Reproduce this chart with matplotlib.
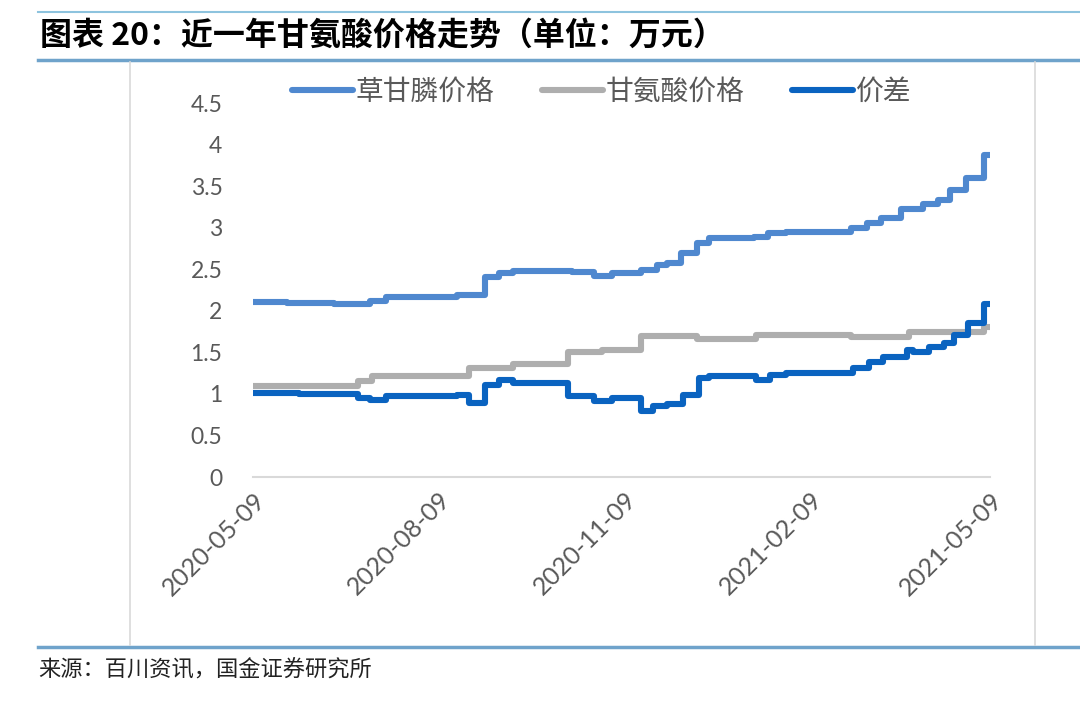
#draw the glycine price trend chart (fig 20)
import matplotlib
matplotlib.use( 'Agg' )
import matplotlib.pyplot as plt
import matplotlib.dates as mdates
from matplotlib.lines import Line2D
import pandas as pd

plt.rcParams['font.family'] = [ 'Noto Sans CJK SC', 'DejaVu Sans' ]

# price change points (万元)
glyphosate_dates = [ "2020-05-09", "2020-05-26", "2020-06-18", "2020-07-06", "2020-07-14", "2020-08-18",
                     "2020-09-01", "2020-09-08", "2020-09-15", "2020-10-14", "2020-10-25", "2020-11-03",
                     "2020-11-17", "2020-11-25", "2020-11-30", "2020-12-07", "2020-12-15", "2020-12-21",
                     "2021-01-12", "2021-01-19", "2021-01-28", "2021-03-01", "2021-03-09", "2021-03-16",
                     "2021-03-26", "2021-04-06", "2021-04-13", "2021-04-19", "2021-04-27", "2021-05-06",
                     "2021-05-09" ]
glyphosate_price = [ 2.10, 2.09, 2.08, 2.12, 2.16, 2.19, 2.41, 2.46, 2.48, 2.47, 2.42, 2.45,
                     2.49, 2.55, 2.58, 2.69, 2.81, 2.87, 2.89, 2.93, 2.95, 2.99, 3.06, 3.12,
                     3.22, 3.28, 3.33, 3.45, 3.60, 3.87, 3.87 ]

glycine_dates = [ "2020-05-09", "2020-06-30", "2020-07-07", "2020-08-24", "2020-09-15", "2020-10-12",
                  "2020-10-29", "2020-11-17", "2020-12-15", "2021-01-13", "2021-03-01", "2021-03-30",
                  "2021-05-06", "2021-05-09" ]
glycine_price = [ 1.10, 1.16, 1.21, 1.31, 1.36, 1.51, 1.53, 1.70, 1.66, 1.71, 1.68, 1.74, 1.80, 1.80 ]

spread_dates = [ "2020-05-09", "2020-06-01", "2020-06-30", "2020-07-06", "2020-07-14", "2020-08-18",
                 "2020-08-24", "2020-09-01", "2020-09-08", "2020-09-15", "2020-10-12", "2020-10-25",
                 "2020-11-03", "2020-11-17", "2020-11-23", "2020-11-30", "2020-12-08", "2020-12-16",
                 "2020-12-21", "2021-01-13", "2021-01-20", "2021-01-28", "2021-03-02", "2021-03-10",
                 "2021-03-17", "2021-03-29", "2021-04-01", "2021-04-09", "2021-04-16", "2021-04-21",
                 "2021-04-28", "2021-05-06", "2021-05-09" ]
spread_price = [ 1.01, 1.00, 0.95, 0.93, 0.97, 0.99, 0.89, 1.11, 1.17, 1.13, 0.97, 0.92,
                 0.95, 0.79, 0.85, 0.88, 0.99, 1.19, 1.21, 1.17, 1.23, 1.25, 1.31, 1.38,
                 1.44, 1.53, 1.51, 1.57, 1.61, 1.71, 1.85, 2.08, 2.08 ]

series_names = [ '草甘膦价格', '甘氨酸价格', '价差' ]
x_ticks = [ "2020-05-09", "2020-08-09", "2020-11-09", "2021-02-09", "2021-05-09" ]
y_ticks = [ 0, 0.5, 1, 1.5, 2, 2.5, 3, 3.5, 4, 4.5 ]

fig = plt.figure( figsize=( 10.8, 7.02 ), dpi=100 )
ax = fig.add_axes( [ 253/1080, 1-477/702, 737/1080, 374/702 ] )

ax.plot( pd.to_datetime( glyphosate_dates ), glyphosate_price, drawstyle='steps-post', color='#4F88CF',
         lw=4.4, solid_capstyle='round', solid_joinstyle='round', label=series_names[0] )
ax.plot( pd.to_datetime( glycine_dates ), glycine_price, drawstyle='steps-post', color='#AEAEAE',
         lw=4.4, solid_capstyle='round', solid_joinstyle='round', label=series_names[1] )
ax.plot( pd.to_datetime( spread_dates ), spread_price, drawstyle='steps-post', color='#0A63C0',
         lw=4.4, solid_capstyle='round', solid_joinstyle='round', label=series_names[2] )

ax.set_xlim( pd.Timestamp( x_ticks[0] ), pd.Timestamp( x_ticks[-1] ) )
ax.set_ylim( 0, 4.5 )
ax.set_xticks( pd.to_datetime( x_ticks ) )
ax.xaxis.set_major_formatter( mdates.DateFormatter( '%Y-%m-%d' ) )
ax.set_yticks( y_ticks )
ax.set_yticklabels( [ '%g' % v for v in y_ticks ] )
ax.tick_params( axis='both', length=0, labelcolor='#595959' )
ax.tick_params( axis='y', pad=22, labelsize=16.5 )
ax.tick_params( axis='x', pad=8, labelsize=18 )
for lab in ax.get_xticklabels():
    lab.set_rotation( 45 )
    lab.set_ha( 'right' )
    lab.set_rotation_mode( 'anchor' )
    lab.set_family( [ 'Lato', 'DejaVu Sans' ] )
for lab in ax.get_yticklabels():
    lab.set_family( [ 'Lato', 'DejaVu Sans' ] )
for s in [ 'top', 'right', 'left' ]:
    ax.spines[s].set_visible( False )
ax.spines['bottom'].set_color( '#D9D9D9' )
ax.spines['bottom'].set_linewidth( 1.5 )
ax.patch.set_alpha( 0 )

fig.legend( loc='center', bbox_to_anchor=( 0.557, 0.869 ), ncol=3, frameon=False, fontsize=20,
            handlelength=2.2, handletextpad=0.1, columnspacing=1.7, labelcolor='#595959' )

# page decorations: rules, frame, title, source
fig.add_artist( Line2D( [ 38/1080, 1 ], [ 1-12/702, 1-12/702 ], color='#8DC3DE', lw=1.5 ) )
fig.add_artist( Line2D( [ 38/1080, 1 ], [ 1-60/702, 1-60/702 ], color='#6FA3CB', lw=2.5 ) )
fig.add_artist( Line2D( [ 38/1080, 1 ], [ 1-647/702, 1-647/702 ], color='#6FA3CB', lw=2.5 ) )
fig.add_artist( Line2D( [ 130/1080, 130/1080 ], [ 1-62/702, 1-645/702 ], color='#D9D9D9', lw=1.2 ) )
fig.add_artist( Line2D( [ 1035/1080, 1035/1080 ], [ 1-62/702, 1-645/702 ], color='#D9D9D9', lw=1.2 ) )

fig.text( 40/1080, 1-36/702, '图表 20：近一年甘氨酸价格走势（单位：万元）', fontsize=23, fontweight='bold',
          style='italic', va='center', ha='left', color='black' )
fig.text( 38/1080, 1-670/702, '来源：百川资讯，国金证券研究所', fontsize=16, va='center', ha='left', color='#222222' )

fig.savefig( 'out.png', dpi=100 )
